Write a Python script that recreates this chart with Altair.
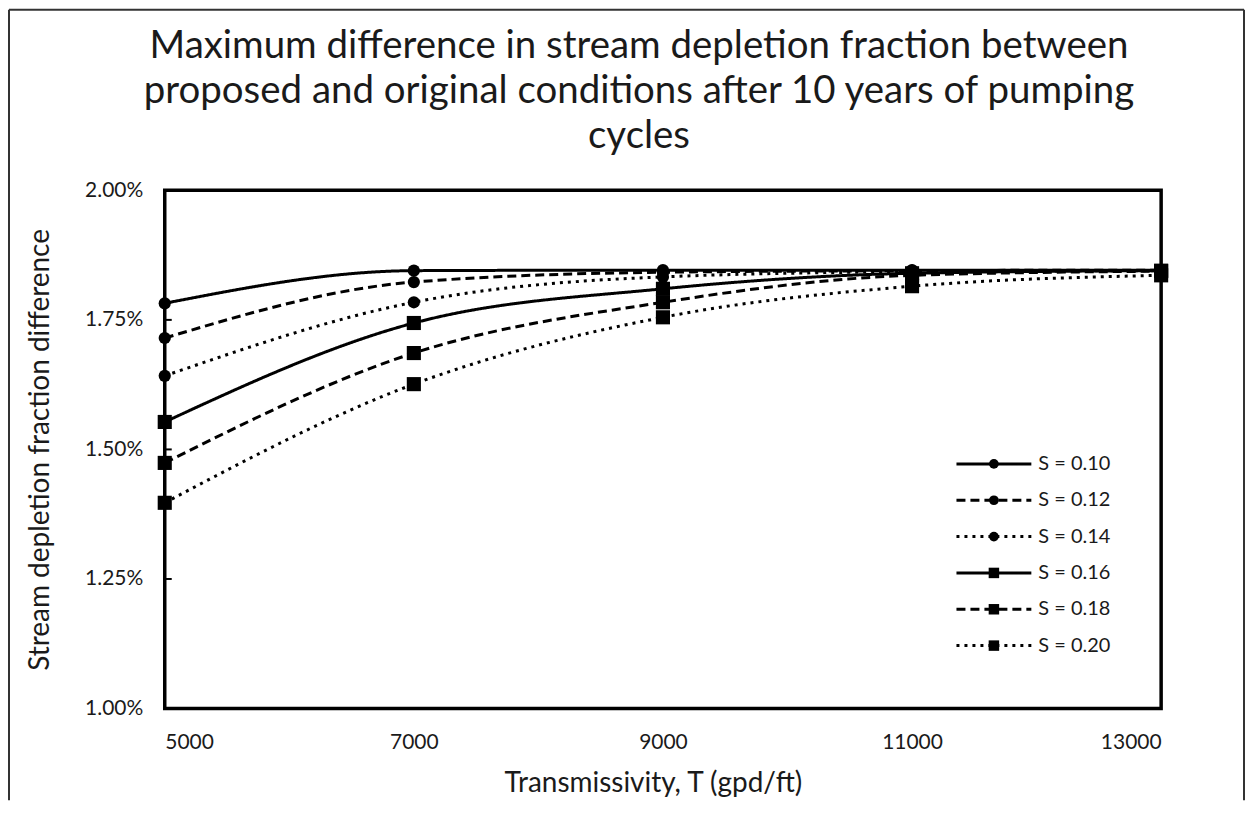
import altair as alt
import pandas as pd

# ---- data ----
T_VALUES = [5000, 7000, 9000, 11000, 13000]
S_LABELS = ["S = 0.10", "S = 0.12", "S = 0.14", "S = 0.16", "S = 0.18", "S = 0.20"]
S010 = [1.782, 1.845, 1.846, 1.846, 1.846]
S012 = [1.715, 1.823, 1.842, 1.845, 1.846]
S014 = [1.642, 1.784, 1.833, 1.843, 1.845]
S016 = [1.553, 1.744, 1.810, 1.840, 1.845]
S018 = [1.474, 1.686, 1.784, 1.836, 1.844]
S020 = [1.397, 1.626, 1.755, 1.815, 1.836]
SERIES = [S010, S012, S014, S016, S018, S020]
CIRCLE_SERIES = S_LABELS[:3]
SQUARE_SERIES = S_LABELS[3:]
Y_TICKS = [0.01, 0.0125, 0.015, 0.0175, 0.02]
TITLE_LINES = [
    "Maximum difference in stream depletion fraction between",
    "proposed and original conditions after 10 years of pumping",
    "cycles",
]

rows = []
for label, vals in zip(S_LABELS, SERIES):
    for t, v in zip(T_VALUES, vals):
        rows.append({"T": t, "S": label, "diff": v / 100.0})
df = pd.DataFrame(rows)
legend_df = pd.DataFrame({"S": S_LABELS})
ticks_df = pd.DataFrame({"diff": Y_TICKS})

FONT = "Lato"
TXT = "#1a1a1a"
DASHES = [[1, 0], [9, 5], [3, 5], [1, 0], [9, 5], [3, 5]]
dash_scale = alt.Scale(domain=S_LABELS, range=DASHES)

x = alt.X(
    "T:Q",
    scale=alt.Scale(domain=[5000, 13000], nice=False, zero=False),
    axis=alt.Axis(
        values=T_VALUES, format="d", title="Transmissivity, T (gpd/ft)",
        labelFont=FONT, labelFontSize=21, labelColor=TXT,
        titleFont=FONT, titleFontSize=28, titleFontWeight="normal", titleColor=TXT,
        domain=False, ticks=False, tickSize=0, grid=False,
        labelPadding=23, titlePadding=17, titleX=489,
    ),
)
y = alt.Y(
    "diff:Q",
    scale=alt.Scale(domain=[0.01, 0.02], nice=False, zero=False),
    axis=alt.Axis(
        values=Y_TICKS, format=".2%", title="Stream depletion fraction difference",
        labelFont=FONT, labelFontSize=21, labelColor=TXT,
        titleFont=FONT, titleFontSize=28, titleFontWeight="normal", titleColor=TXT,
        domain=False, ticks=False, tickSize=0, grid=False,
        labelPadding=22, titlePadding=30,
    ),
)

base = alt.Chart(df)

lines = base.mark_line(interpolate="monotone", color="black", strokeWidth=3).encode(
    x=x, y=y,
    strokeDash=alt.StrokeDash("S:N", scale=dash_scale, legend=None),
    detail="S:N",
)
circles = base.mark_point(shape="circle", filled=True, size=150, color="black", opacity=1).encode(
    x=x, y=y
).transform_filter(alt.FieldOneOfPredicate(field="S", oneOf=CIRCLE_SERIES))
squares = base.mark_point(shape="square", filled=True, size=200, color="black", opacity=1).encode(
    x=x, y=y
).transform_filter(alt.FieldOneOfPredicate(field="S", oneOf=SQUARE_SERIES))

# inward y-axis tick marks, placed by the y scale
inner_ticks = alt.Chart(ticks_df).mark_rule(color="black", strokeWidth=2).encode(
    y=y, x=alt.value(0), x2=alt.value(7)
)

data_layer = alt.layer(lines, circles, squares, inner_ticks)

# ---- legend drawn through its own point scale ----
leg_y = alt.Y("S:N", scale=alt.Scale(type="point", domain=S_LABELS, range=[274, 456], padding=0), axis=None)
lbase = alt.Chart(legend_df)
leg_rules = lbase.mark_rule(color="black", strokeWidth=3).encode(
    y=leg_y, x=alt.value(793), x2=alt.value(868),
    strokeDash=alt.StrokeDash("S:N", scale=dash_scale, legend=None),
)
leg_circles = lbase.mark_point(shape="circle", filled=True, size=95, color="black", opacity=1).encode(
    y=leg_y, x=alt.value(830.5)
).transform_filter(alt.FieldOneOfPredicate(field="S", oneOf=CIRCLE_SERIES))
leg_squares = lbase.mark_point(shape="square", filled=True, size=110, color="black", opacity=1).encode(
    y=leg_y, x=alt.value(830.5)
).transform_filter(alt.FieldOneOfPredicate(field="S", oneOf=SQUARE_SERIES))
leg_text = lbase.mark_text(align="left", baseline="middle", font=FONT, fontSize=20, color=TXT).encode(
    y=leg_y, x=alt.value(875), text="S:N"
)
legend_layer = alt.layer(leg_rules, leg_circles, leg_squares, leg_text)

one = alt.Data(values=[{}])
border_left = alt.Chart(one).mark_rule(color="#333", strokeWidth=2).encode(
    x=alt.value(-156), y=alt.value(-181), y2=alt.value(611))
border_right = alt.Chart(one).mark_rule(color="#333", strokeWidth=2).encode(
    x=alt.value(1081), y=alt.value(-181), y2=alt.value(611))
border_top = alt.Chart(one).mark_rule(color="#333", strokeWidth=2).encode(
    x=alt.value(-156), x2=alt.value(1081), y=alt.value(-181))

chart = alt.layer(
    data_layer, legend_layer, border_left, border_right, border_top
).resolve_scale(y="independent").properties(
    width=998, height=519,
    title=alt.TitleParams(
        text=TITLE_LINES, font=FONT, fontSize=38.5, fontWeight="normal", color=TXT,
        anchor="middle", dx=-24, offset=-148, lineHeight=45,
    ),
    autosize=alt.AutoSizeParams(type="none"),
    padding={"left": 157, "top": 182, "right": 84, "bottom": 92},
).configure_view(stroke="black", strokeWidth=3.5)

chart.save("out.html", embed_options={"renderer": "svg", "actions": False})
